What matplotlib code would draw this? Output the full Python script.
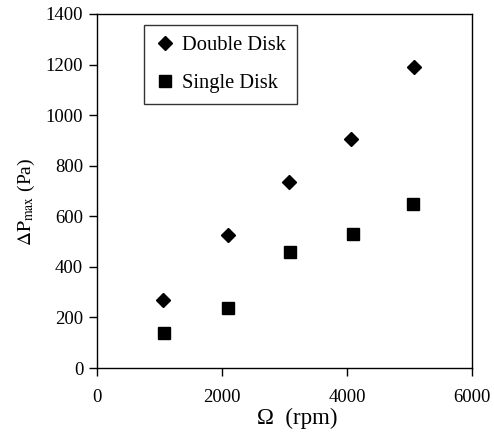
import matplotlib
matplotlib.use("Agg")
from matplotlib import pyplot as plt

# rotational speed (rpm) and max pressure difference (Pa)
double_rpm = [1060, 2090, 3070, 4060, 5070]
double_dp = [270, 525, 735, 905, 1190]
single_rpm = [1070, 2100, 3080, 4090, 5060]
single_dp = [138, 237, 458, 528, 648]

x_ticks = [0, 2000, 4000, 6000]
y_ticks = [0, 200, 400, 600, 800, 1000, 1200, 1400]

config = {
    "font.family": "serif",
    "font.serif": ["Liberation Serif", "DejaVu Serif"],
    "font.size": 13,
    "mathtext.fontset": "stix",
}
matplotlib.rcParams.update(config)

fig = plt.figure(figsize=(4.94, 4.33), dpi=100)
ax = fig.add_axes([0.1964, 0.1501, 0.7591, 0.8176])

ax.plot(double_rpm, double_dp, linestyle="none", marker="D", markersize=7.2,
        color="black", label="Double Disk")
ax.plot(single_rpm, single_dp, linestyle="none", marker="s", markersize=9,
        color="black", label="Single Disk")

ax.set_xlim(0, 6000)
ax.set_ylim(0, 1400)
ax.set_xticks(x_ticks)
ax.set_yticks(y_ticks)
ax.tick_params(direction="out", length=6, width=1, top=False, right=False,
               labelsize=13.5, pad=4)
ax.tick_params(axis="x", pad=9)
for sp in ax.spines.values():
    sp.set_linewidth(1)

ax.set_xlabel("Ω  (rpm)", fontsize=16.5)
ax.xaxis.set_label_coords(0.533, -0.113)
ax.set_ylabel(r"$\Delta\mathrm{P}_{\mathrm{max}}$ (Pa)", fontsize=14)
ax.yaxis.set_label_coords(-0.16, 0.469)

leg = ax.legend(loc="upper left", bbox_to_anchor=(0.125, 0.97), frameon=True,
                fancybox=False, edgecolor="black", handlelength=1.0,
                handletextpad=0.3, labelspacing=0.9, borderpad=0.55,
                borderaxespad=0, fontsize=14.8)
leg.get_frame().set_linewidth(1)

plt.savefig("out.png", dpi=100)
